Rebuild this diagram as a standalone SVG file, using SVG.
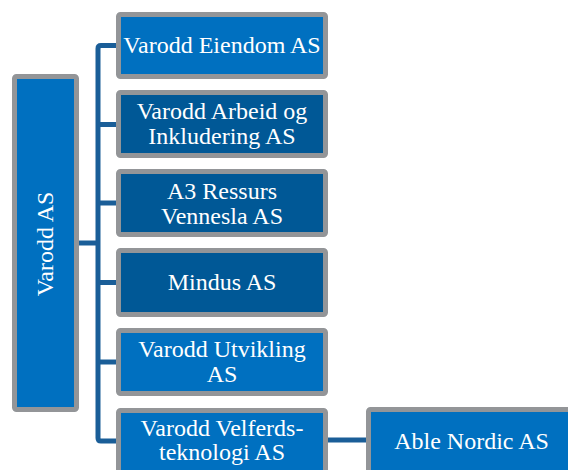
<svg xmlns="http://www.w3.org/2000/svg" width="568" height="470" viewBox="0 0 568 470">
<style>
.box{stroke:#939598;stroke-width:5;}
.lt{fill:#0070C0;}
.dk{fill:#005896;}
.t{font-family:"Liberation Serif","Times New Roman",serif;font-size:24px;fill:#ffffff;text-anchor:middle;}
.c{fill:none;stroke:#1A5E98;stroke-width:5;stroke-linejoin:round;}
</style>
<rect width="568" height="470" fill="#ffffff"/>
<g id="connectors">
<path class="c" d="M118 45.5 H101 Q98 45.5 98 48.5 V438 Q98 441 101 441 H118"/>
<path class="c" d="M79 243 H98"/>
<path class="c" d="M98 124.5 H118"/>
<path class="c" d="M98 203 H118"/>
<path class="c" d="M98 282.5 H118"/>
<path class="c" d="M98 362 H118"/>
<path class="c" d="M328 440 H366"/>
</g>
<g id="varodd-as">
<rect class="box lt" x="14.5" y="76.5" width="62" height="333" rx="2"/>
<text class="t" transform="translate(52.5,244) rotate(-90)">Varodd AS</text>
</g>
<g id="varodd-eiendom">
<rect class="box lt" x="118.5" y="14.5" width="207" height="62" rx="2"/>
<text class="t" x="222" y="52.5">Varodd Eiendom AS</text>
</g>
<g id="varodd-arbeid">
<rect class="box dk" x="118.5" y="92.5" width="207" height="63" rx="2"/>
<text class="t" x="222" y="118.5">Varodd Arbeid og</text>
<text class="t" x="222" y="143.5">Inkludering AS</text>
</g>
<g id="a3-ressurs">
<rect class="box dk" x="118.5" y="171.5" width="207" height="63" rx="2"/>
<text class="t" x="222" y="198.5">A3 Ressurs</text>
<text class="t" x="222" y="223.5">Vennesla AS</text>
</g>
<g id="mindus">
<rect class="box dk" x="118.5" y="250.5" width="207" height="64" rx="2"/>
<text class="t" x="222" y="289.5">Mindus AS</text>
</g>
<g id="varodd-utvikling">
<rect class="box lt" x="118.5" y="330.5" width="207" height="63" rx="2"/>
<text class="t" x="222" y="357">Varodd Utvikling</text>
<text class="t" x="222" y="382">AS</text>
</g>
<g id="varodd-velferdsteknologi">
<rect class="box lt" x="118.5" y="410.5" width="207" height="63" rx="2"/>
<text class="t" x="222" y="435.5">Varodd Velferds-</text>
<text class="t" x="222" y="459.5">teknologi AS</text>
</g>
<g id="able-nordic">
<rect class="box lt" x="368.5" y="409.5" width="207" height="63" rx="2"/>
<text class="t" x="471.5" y="448.5">Able Nordic AS</text>
</g>
</svg>
